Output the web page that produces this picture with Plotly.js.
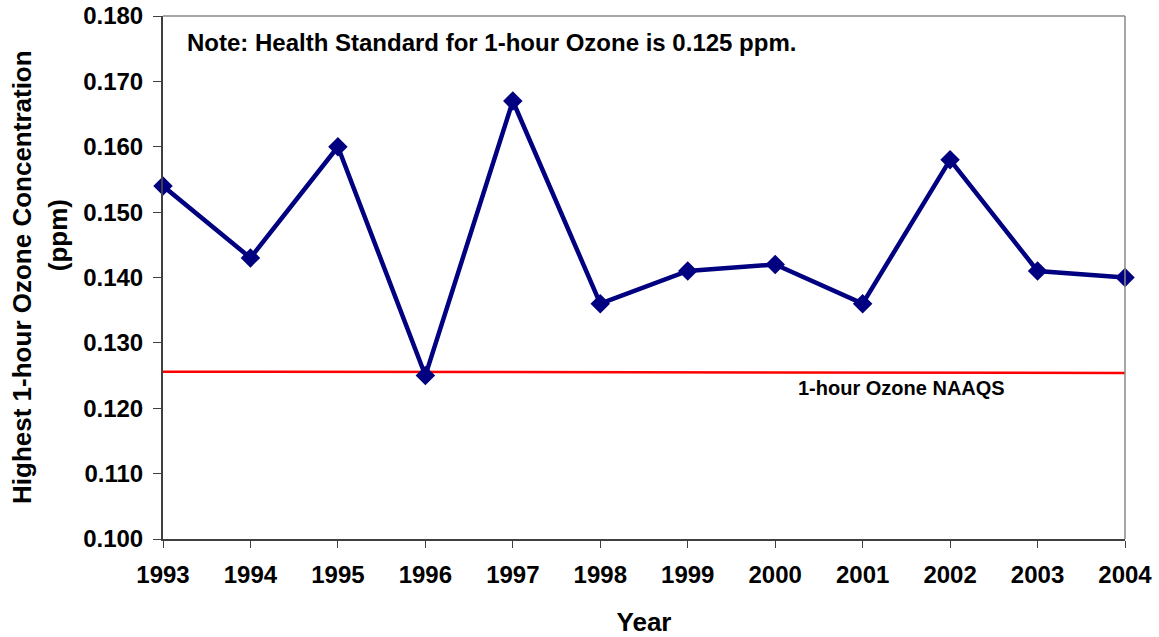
<!DOCTYPE html>
<html>
<head>
<meta charset="utf-8">
<script src="https://cdn.plot.ly/plotly-3.0.1.min.js"></script>
<style>
  html, body { margin: 0; padding: 0; background: #fff; }
  #chart { width: 1159px; height: 637px; }
</style>
</head>
<body>
<div id="chart"></div>
<script>
// data
var years = [1993, 1994, 1995, 1996, 1997, 1998, 1999, 2000, 2001, 2002, 2003, 2004];
var ozone = [0.154, 0.143, 0.160, 0.125, 0.167, 0.136, 0.141, 0.142, 0.136, 0.158, 0.141, 0.140];
var standardYears = [1993, 2004];
var standardLevel = [0.1256, 0.1254];

var font = 'Liberation Sans, Arial, sans-serif';

var ozoneTrace = {
    x: years,
    y: ozone,
    type: 'scatter',
    mode: 'lines+markers',
    line: {color: '#000080', width: 4.5},
    marker: {symbol: 'diamond', size: 15, color: '#000080'},
    cliponaxis: false,
    showlegend: false
};

var standardTrace = {
    x: standardYears,
    y: standardLevel,
    type: 'scatter',
    mode: 'lines',
    line: {color: '#ff0000', width: 2.5},
    showlegend: false
};

var layout = {
    width: 1159,
    height: 637,
    margin: {l: 163, r: 34, t: 16, b: 98},
    paper_bgcolor: '#fff',
    plot_bgcolor: '#fff',
    font: {family: font, color: '#000'},
    xaxis: {
        range: [1993, 2004],
        tickvals: years,
        ticktext: years.map(String),
        ticks: 'outside',
        ticklen: 7,
        tickcolor: '#404040',
        ticklabelstandoff: 6,
        showgrid: false,
        zeroline: false,
        showline: true,
        linecolor: '#404040',
        linewidth: 2,
        tickfont: {size: 24, family: font, weight: 'bold'},
        title: {text: '<b>Year</b>', font: {size: 26, family: font}, standoff: 27}
    },
    yaxis: {
        range: [0.100, 0.180],
        dtick: 0.010,
        tickformat: '.3f',
        ticks: 'outside',
        ticklen: 8,
        tickcolor: '#404040',
        ticklabelstandoff: 5,
        showgrid: false,
        zeroline: false,
        showline: true,
        linecolor: '#404040',
        linewidth: 2,
        tickfont: {size: 24, family: font, weight: 'bold'}
    },
    shapes: [
        {type: 'line', xref: 'paper', yref: 'paper', x0: 0, x1: 1, y0: 1, y1: 1, line: {color: '#888', width: 1.5}},
        {type: 'line', xref: 'paper', yref: 'paper', x0: 1, x1: 1, y0: 0, y1: 1, line: {color: '#888', width: 1.5}}
    ],
    annotations: [
        {
            text: '<b>Highest 1-hour Ozone Concentration</b>',
            xref: 'paper', yref: 'paper', x: -0.1466, y: 0.501, textangle: -90,
            xanchor: 'center', yanchor: 'middle', showarrow: false,
            font: {size: 26, family: font, color: '#000'}
        },
        {
            text: '<b>(ppm)</b>',
            xref: 'paper', yref: 'paper', x: -0.109, y: 0.581, textangle: -90,
            xanchor: 'center', yanchor: 'middle', showarrow: false,
            font: {size: 26, family: font, color: '#000'}
        },
        {
            text: '<b>Note: Health Standard for 1-hour Ozone is 0.125 ppm.</b>',
            xref: 'paper', yref: 'paper', x: 0.0229, y: 0.95,
            xanchor: 'left', yanchor: 'middle', showarrow: false,
            font: {size: 24, family: font, color: '#000'}
        },
        {
            text: '<b>1-hour Ozone NAAQS</b>',
            xref: 'x', yref: 'y', x: 2001.45, y: 0.1231,
            xanchor: 'center', yanchor: 'middle', showarrow: false,
            font: {size: 20, family: font, color: '#000'}
        }
    ]
};

Plotly.newPlot('chart', [standardTrace, ozoneTrace], layout, {staticPlot: true});
</script>
</body>
</html>
